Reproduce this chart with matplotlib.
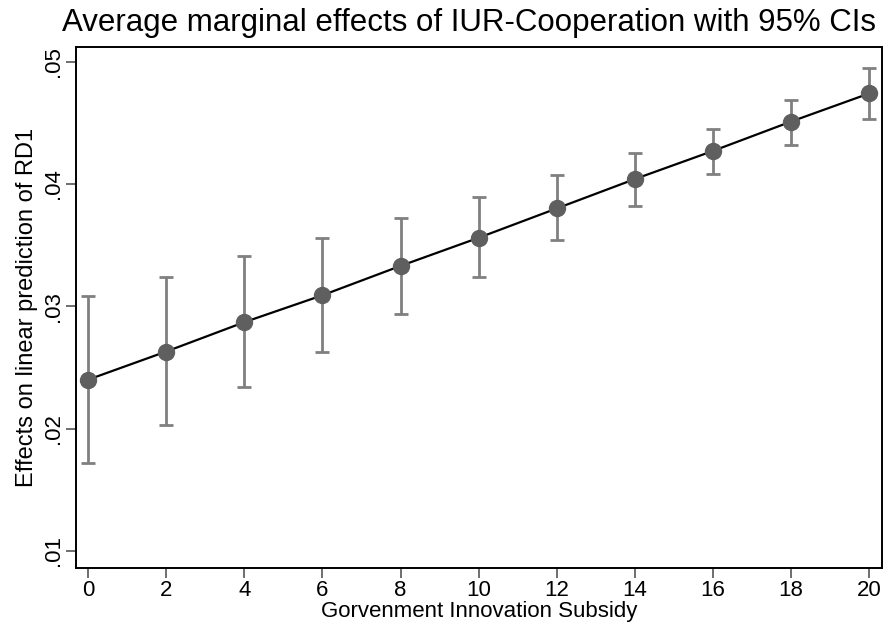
import numpy as np
import matplotlib
matplotlib.use("Agg")
import matplotlib.pyplot as plt

# values
subsidy = [0, 2, 4, 6, 8, 10, 12, 14, 16, 18, 20]
effect = [0.0240, 0.0263, 0.0287, 0.0309, 0.0333, 0.0356, 0.0380, 0.0404, 0.0427, 0.0451, 0.0474]
ci_low = [0.0172, 0.0203, 0.0234, 0.0263, 0.0294, 0.0324, 0.0354, 0.0382, 0.0408, 0.0432, 0.0453]
ci_high = [0.0308, 0.0324, 0.0341, 0.0356, 0.0372, 0.0389, 0.0407, 0.0425, 0.0445, 0.0469, 0.0495]
y_ticks = [0.01, 0.02, 0.03, 0.04, 0.05]
y_tick_labels = [".01", ".02", ".03", ".04", ".05"]

plt.rcParams['font.family'] = ['Liberation Sans', 'DejaVu Sans']

fig = plt.figure(figsize=(8.85, 6.3), dpi=100)
ax = fig.add_axes([0.0859, 0.0984, 0.9107, 0.827])

eff = np.array(effect)
yerr = [eff - np.array(ci_low), np.array(ci_high) - eff]
ax.errorbar(subsidy, effect, yerr=yerr, fmt='none', ecolor='#808080',
            elinewidth=2.0, capsize=5, capthick=2.0, zorder=2)
ax.plot(subsidy, effect, color='black', linewidth=1.6, zorder=3)
ax.plot(subsidy, effect, 'o', color='#5f5f5f', markersize=11.5, zorder=4)

ax.set_xlim(-0.31, 20.33)
ax.set_ylim(0.0086, 0.0512)
ax.set_xticks(subsidy)
ax.set_yticks(y_ticks)
ax.set_yticklabels(y_tick_labels, rotation=90, va='center')

ax.tick_params(axis='both', direction='out', length=7, width=1.2,
               color='#555555', labelsize=16, pad=1.5)
for s in ax.spines.values():
    s.set_linewidth(1.4)
    s.set_color('black')

ax.set_xlabel("Gorvenment Innovation Subsidy", fontsize=16, labelpad=0)
ax.set_ylabel("Effects on linear prediction of RD1", fontsize=17, labelpad=4)
fig.text(0.07, 0.963, "Average marginal effects of IUR-Cooperation with 95% CIs",
         fontsize=22.5, ha='left', va='center')

fig.savefig("out.png", dpi=100)
